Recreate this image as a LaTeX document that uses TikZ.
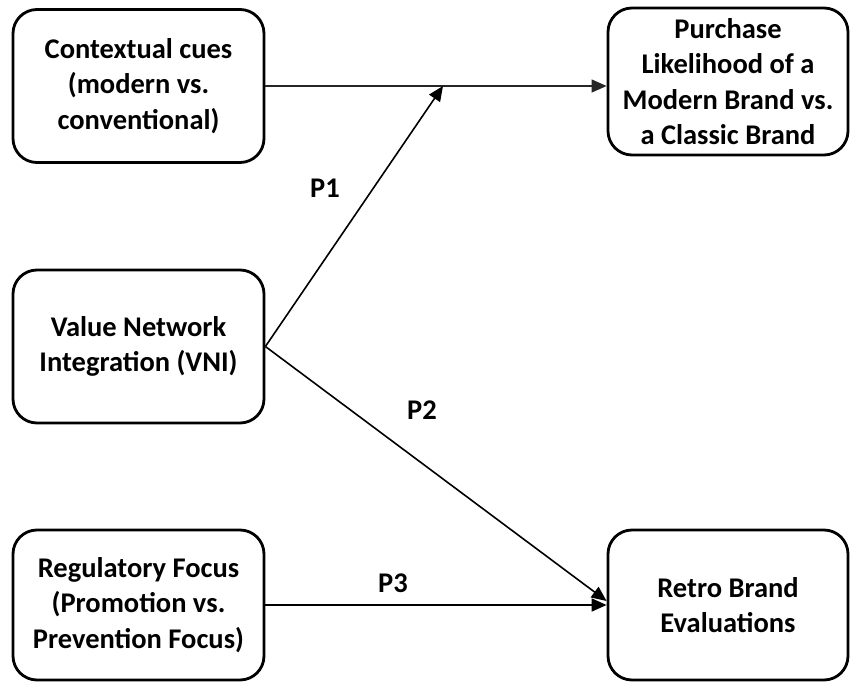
\documentclass[tikz,border=0pt]{standalone}
\usepackage{fontspec}
\setmainfont{Carlito}
\usetikzlibrary{arrows.meta}
\begin{document}
\begin{tikzpicture}[x=1pt,y=-1pt,
 box/.style={draw, line width=2.8pt, rounded corners=24pt, minimum width=251pt, minimum height=153pt, align=center, font=\bfseries\fontsize{28.5}{35.5}\selectfont, inner sep=0pt},
 conn/.style={line width=1.6pt, -{Triangle[length=15pt,width=13pt]}},
 lab/.style={font=\bfseries\fontsize{28.5}{30}\selectfont, inner sep=0pt}]
\useasboundingbox (0,0) rectangle (851,684);
\node[box] (cc) at (138.5,86) {Contextual cues\\(modern vs.\\conventional)};
\node[box, minimum width=240pt, minimum height=147pt] (pl) at (728,81.5) {Purchase\\Likelihood of a\\Modern Brand vs.\\a Classic Brand};
\node[box] (vni) at (138.5,346.5) {Value Network\\Integration (VNI)};
\node[box, minimum height=150pt] (rf) at (138.5,605) {Regulatory Focus\\(Promotion vs.\\Prevention Focus)};
\node[box, minimum width=240pt, minimum height=150pt] (rb) at (728,605) {Retro Brand\\Evaluations};
\coordinate (m) at (443,86);
\draw[conn, line width=1.2pt, draw=black!85] (cc.east) -- (cc.east -| pl.west);
\draw[conn] (vni.east) -- (m);
\draw[conn] (vni.east) -- ([yshift=4pt]rb.west);
\draw[conn] (rf.east) -- (rb.west);
\node[lab] (p1) at (325,188) {P1};
\node[lab] (p2) at (422,410) {P2};
\node[lab] (p3) at (393,583) {P3};
\end{tikzpicture}
\end{document}
